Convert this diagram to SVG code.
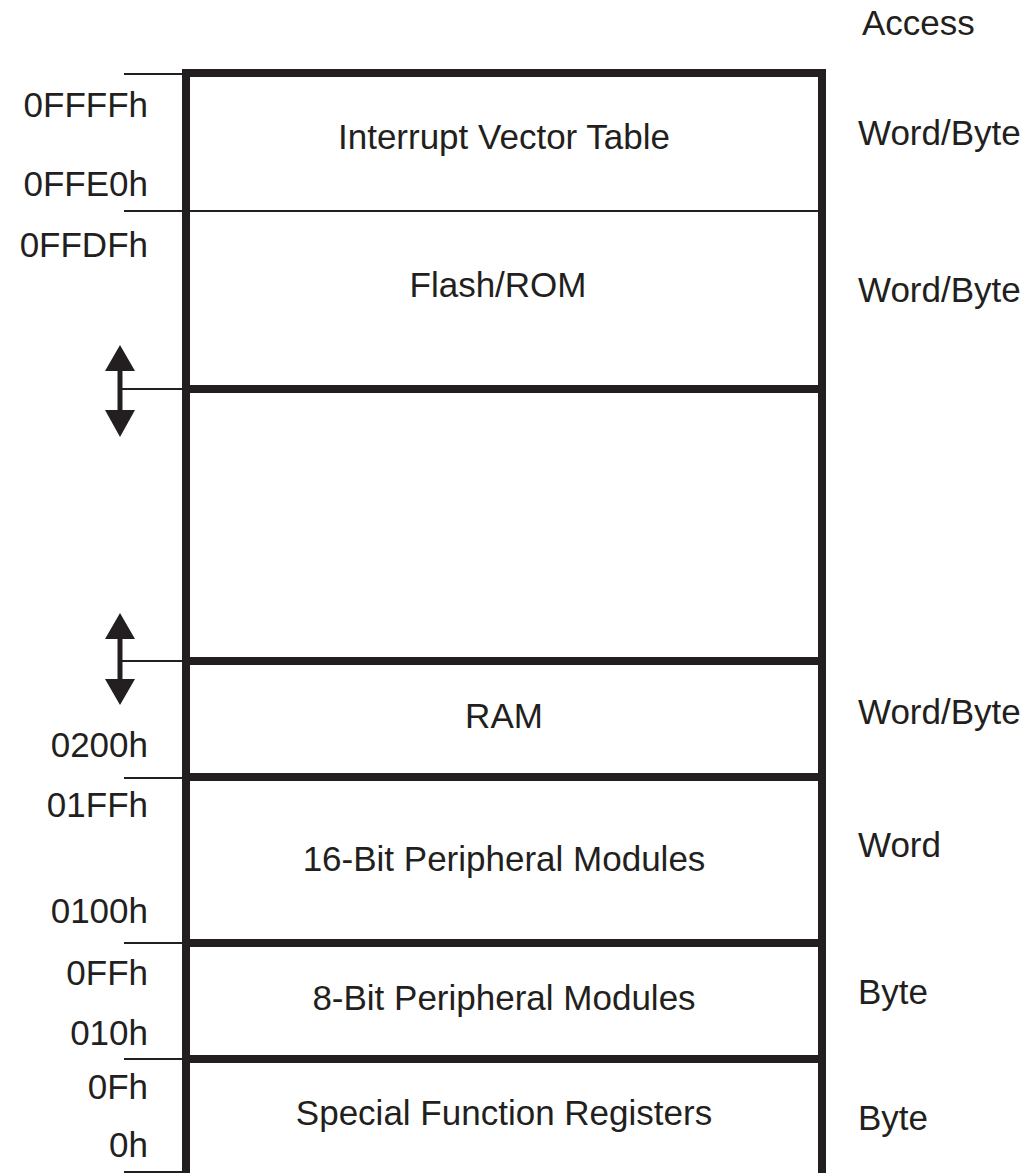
<svg xmlns="http://www.w3.org/2000/svg" width="1034" height="1173" viewBox="0 0 1034 1173">
<style>
text{font-family:"Liberation Sans",Arial,sans-serif;font-size:35px;fill:#231f20}
.c{text-anchor:middle}
.l{text-anchor:end}
.thick{stroke:#231f20;stroke-width:8;fill:none}
.thin{stroke:#231f20;stroke-width:2;fill:none}
.ah{fill:#231f20}
</style>
<rect width="1034" height="1173" fill="#fff"/>
<text x="862" y="35">Access</text>
<g id="ivt">
<text class="c" x="504" y="149">Interrupt Vector Table</text>
<text x="858" y="145">Word/Byte</text>
<text class="l" x="148" y="117">0FFFFh</text>
<text class="l" x="148" y="196">0FFE0h</text>
</g>
<g id="flash">
<text class="c" x="498" y="297">Flash/ROM</text>
<text x="858" y="302">Word/Byte</text>
<text class="l" x="148" y="257">0FFDFh</text>
</g>
<g id="ram">
<text class="c" x="504" y="728">RAM</text>
<text x="858" y="724">Word/Byte</text>
<text class="l" x="148" y="757">0200h</text>
</g>
<g id="p16">
<text class="c" x="504" y="871">16-Bit Peripheral Modules</text>
<text x="858" y="857">Word</text>
<text class="l" x="148" y="817">01FFh</text>
<text class="l" x="148" y="923">0100h</text>
</g>
<g id="p8">
<text class="c" x="504" y="1010">8-Bit Peripheral Modules</text>
<text x="858" y="1004">Byte</text>
<text class="l" x="148" y="985">0FFh</text>
<text class="l" x="148" y="1045">010h</text>
</g>
<g id="sfr">
<text class="c" x="504" y="1125">Special Function Registers</text>
<text x="858" y="1130">Byte</text>
<text class="l" x="148" y="1099">0Fh</text>
<text class="l" x="148" y="1157">0h</text>
</g>
<g id="connectors">
<path class="thick" d="M186,1180 V73 H822 V1180"/>
<path class="thick" d="M186,389 H822 M186,661 H822 M186,777 H822 M186,943 H822 M186,1059 H822"/>
<path class="thin" d="M124,74 H186 M124,211 H822 M120,389 H186 M120,661 H186 M124,778 H186 M124,943 H186 M124,1059 H186 M124,1172 H186"/>
<path d="M120,368 V413 M120,636 V685" stroke="#231f20" stroke-width="5"/>
<path class="ah" d="M120,345 L135,371 L105,371 Z M120,437 L135,410 L105,410 Z M120,613 L135,639 L105,639 Z M120,705 L135,679 L105,679 Z"/>
</g>
</svg>
